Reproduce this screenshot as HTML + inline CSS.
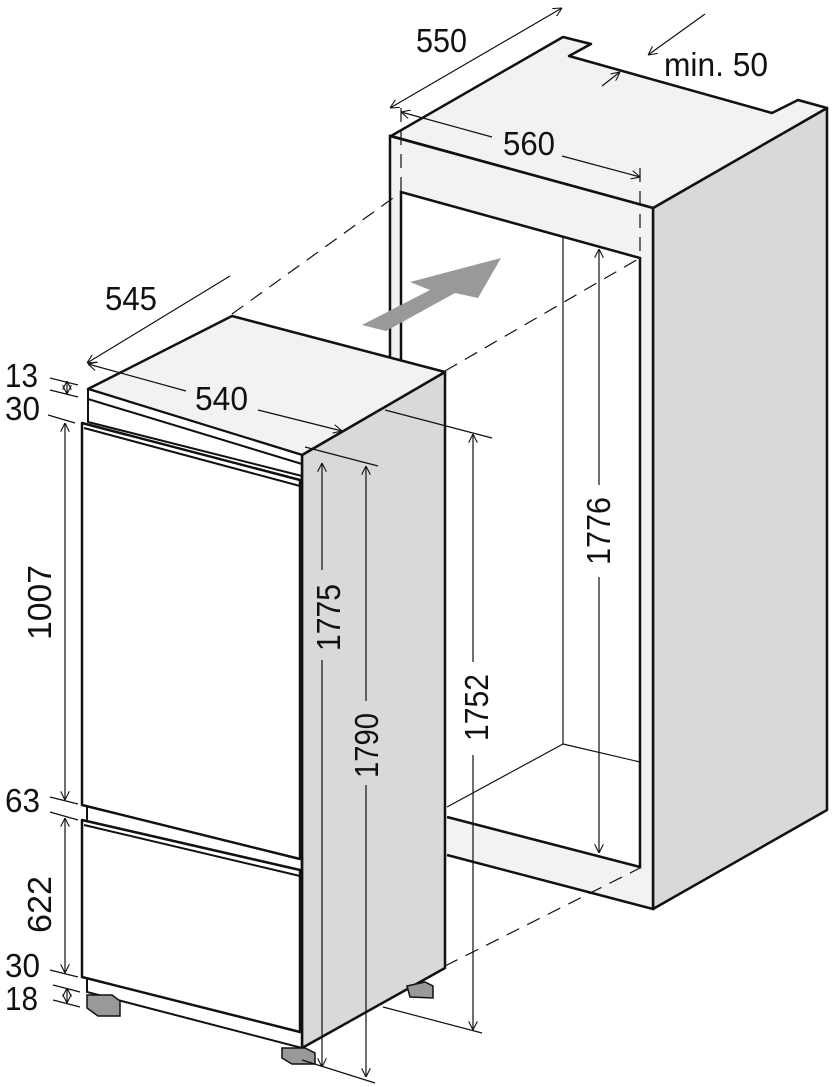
<!DOCTYPE html>
<html><head><meta charset="utf-8"><style>
html,body{margin:0;padding:0;background:#fff;}
svg{display:block;}
text{font-family:"Liberation Sans",sans-serif;fill:#111;}
</style></head><body>
<svg width="832" height="1087" viewBox="0 0 832 1087" xmlns="http://www.w3.org/2000/svg">
<defs>
<marker id="ar" viewBox="0 0 10 10" refX="10" refY="5" markerWidth="9" markerHeight="9" orient="auto-start-reverse" markerUnits="userSpaceOnUse">
<path d="M0,0 L10,5 L0,10" fill="none" stroke="#111" stroke-width="1.2"/>
</marker>
</defs>

<polygon points="653,208 827,108 827,810 653,909" fill="#d9d9d9" stroke="#111" stroke-width="2.5" stroke-linejoin="round"/>
<polygon points="391,136 563,37 591,44 569,56 772,113 798,100 827,108 653,208" fill="#f2f2f2" stroke="#111" stroke-width="2.5" stroke-linejoin="round"/>
<polygon points="390,136 653,208 653,909 447,855 447,372 390,357" fill="#f2f2f2" stroke="none"/>
<polyline points="390,357 390,136 653,208 653,909 447,855" fill="none" stroke="#111" stroke-width="2.5"/>
<polygon points="401,192 640,258 640,867 447,817 447,372 401,360" fill="#fff" stroke="none"/>
<polyline points="401,360 401,192 640,258 640,867 447,817" fill="none" stroke="#111" stroke-width="2.5"/>
<line x1="563" y1="237" x2="563" y2="744" stroke="#111" stroke-width="1.2"/>
<line x1="447" y1="807" x2="563" y2="744" stroke="#111" stroke-width="1.2"/>
<line x1="563" y1="744" x2="640" y2="762" stroke="#111" stroke-width="1.2"/>

<g stroke="#111" stroke-width="1.2" stroke-dasharray="14,9" fill="none">
<line x1="232" y1="314" x2="400" y2="193"/>
<line x1="445" y1="371" x2="640" y2="258"/>
<line x1="445" y1="966" x2="640" y2="868"/>
<line x1="401" y1="108" x2="401" y2="192"/>
<line x1="640" y1="168" x2="640" y2="258"/>
</g>

<polygon points="362,325 386,331 455,293 478,298 501,258 410,282 430,290" fill="#999"/>

<polygon points="302,455 445,372 445,968 302,1048" fill="#d9d9d9" stroke="#111" stroke-width="2.5" stroke-linejoin="round"/>
<polygon points="88,389 232,316 445,372 302,455" fill="#f2f2f2" stroke="#111" stroke-width="2.5" stroke-linejoin="round"/>
<polygon points="88,389 302,455 302,476 88,422" fill="#fff" stroke="#111" stroke-width="2" stroke-linejoin="round"/>
<line x1="88" y1="399" x2="302" y2="464" stroke="#111" stroke-width="2"/>
<polygon points="87,975 302,1030 302,1048 87,992" fill="#fff" stroke="#111" stroke-width="2"/>
<polygon points="87,995 112,995 120,1001 120,1016 98,1016 87,1008" fill="#999" stroke="#111" stroke-width="1.5"/>
<polygon points="282,1048 305,1048 315,1053 315,1064 292,1064 282,1058" fill="#999" stroke="#111" stroke-width="1.5"/>
<polygon points="407,986 425,982 433,986 433,998 410,997" fill="#999" stroke="#111" stroke-width="1.5"/>
<polygon points="82,423 300,480 300,859 82,805" fill="#fff" stroke="#111" stroke-width="2.5" stroke-linejoin="round"/>
<line x1="84" y1="428" x2="300" y2="486" stroke="#111" stroke-width="2"/>
<line x1="87" y1="805" x2="87" y2="820" stroke="#111" stroke-width="2"/>
<polygon points="82,820 300,870 300,1032 82,977" fill="#fff" stroke="#111" stroke-width="2.5" stroke-linejoin="round"/>
<line x1="84" y1="825" x2="300" y2="876" stroke="#111" stroke-width="2"/>
<line x1="302" y1="455" x2="302" y2="1048" stroke="#111" stroke-width="2.5"/>

<g stroke="#111" stroke-width="1.2" fill="none">
<line x1="390" y1="108" x2="562" y2="8" marker-start="url(#ar)" marker-end="url(#ar)"/>
<line x1="401" y1="112" x2="492" y2="137" marker-start="url(#ar)"/>
<line x1="562" y1="156" x2="640" y2="177" marker-end="url(#ar)"/>
<line x1="705" y1="14" x2="648" y2="55" marker-end="url(#ar)"/>
<line x1="602" y1="86" x2="620" y2="72" marker-end="url(#ar)"/>
<line x1="230" y1="276" x2="87" y2="363" marker-end="url(#ar)"/>
<line x1="88" y1="364" x2="186" y2="391" marker-start="url(#ar)"/>
<line x1="258" y1="410" x2="342" y2="431" marker-end="url(#ar)"/>
<line x1="50" y1="378" x2="78" y2="385"/>
<line x1="50" y1="390" x2="78" y2="397"/>
<line x1="48" y1="415" x2="75" y2="423"/>
<line x1="67" y1="381" x2="67" y2="394" marker-start="url(#ar)" marker-end="url(#ar)"/>
<line x1="65" y1="423" x2="65" y2="800" marker-start="url(#ar)" marker-end="url(#ar)"/>
<line x1="50" y1="797" x2="78" y2="804"/>
<line x1="50" y1="812" x2="78" y2="820"/>
<line x1="65" y1="818" x2="65" y2="973" marker-start="url(#ar)" marker-end="url(#ar)"/>
<line x1="50" y1="970" x2="78" y2="977"/>
<line x1="53" y1="985" x2="80" y2="992"/>
<line x1="53" y1="1000" x2="80" y2="1007"/>
<line x1="67" y1="988" x2="67" y2="1003" marker-start="url(#ar)" marker-end="url(#ar)"/>
<line x1="305" y1="447" x2="378" y2="466"/>
<line x1="302" y1="1060" x2="375" y2="1083"/>
<line x1="322" y1="463" x2="322" y2="570" marker-start="url(#ar)"/>
<line x1="322" y1="660" x2="322" y2="1067" marker-end="url(#ar)"/>
<line x1="366" y1="466" x2="366" y2="701" marker-start="url(#ar)"/>
<line x1="366" y1="785" x2="366" y2="1077" marker-end="url(#ar)"/>
<line x1="385" y1="410" x2="492" y2="438"/>
<line x1="383" y1="1007" x2="482" y2="1033"/>
<line x1="473" y1="434" x2="473" y2="662" marker-start="url(#ar)"/>
<line x1="473" y1="755" x2="473" y2="1030" marker-end="url(#ar)"/>
<line x1="599" y1="249" x2="599" y2="485" marker-start="url(#ar)"/>
<line x1="599" y1="577" x2="599" y2="853" marker-end="url(#ar)"/>
</g>

<g font-size="33">
<text x="416" y="52" textLength="51" lengthAdjust="spacingAndGlyphs">550</text>
<text x="664" y="76" textLength="104" lengthAdjust="spacingAndGlyphs">min. 50</text>
<text x="503" y="155" textLength="52" lengthAdjust="spacingAndGlyphs">560</text>
<text x="105" y="310" textLength="52" lengthAdjust="spacingAndGlyphs">545</text>
<text x="195" y="410" textLength="53" lengthAdjust="spacingAndGlyphs">540</text>
<text x="5" y="387" textLength="33" lengthAdjust="spacingAndGlyphs">13</text>
<text x="5" y="420" textLength="35" lengthAdjust="spacingAndGlyphs">30</text>
<text x="5" y="812" textLength="35" lengthAdjust="spacingAndGlyphs">63</text>
<text x="5" y="977" textLength="35" lengthAdjust="spacingAndGlyphs">30</text>
<text x="5" y="1010" textLength="33" lengthAdjust="spacingAndGlyphs">18</text>
<text transform="translate(51,640) rotate(-90)" textLength="75" lengthAdjust="spacingAndGlyphs">1007</text>
<text transform="translate(51,933) rotate(-90)" textLength="57" lengthAdjust="spacingAndGlyphs">622</text>
<text transform="translate(340,651) rotate(-90)" textLength="67" lengthAdjust="spacingAndGlyphs">1775</text>
<text transform="translate(378,778) rotate(-90)" textLength="65" lengthAdjust="spacingAndGlyphs">1790</text>
<text transform="translate(488,741) rotate(-90)" textLength="67" lengthAdjust="spacingAndGlyphs">1752</text>
<text transform="translate(610,565) rotate(-90)" textLength="68" lengthAdjust="spacingAndGlyphs">1776</text>
</g>
</svg>
</body></html>
